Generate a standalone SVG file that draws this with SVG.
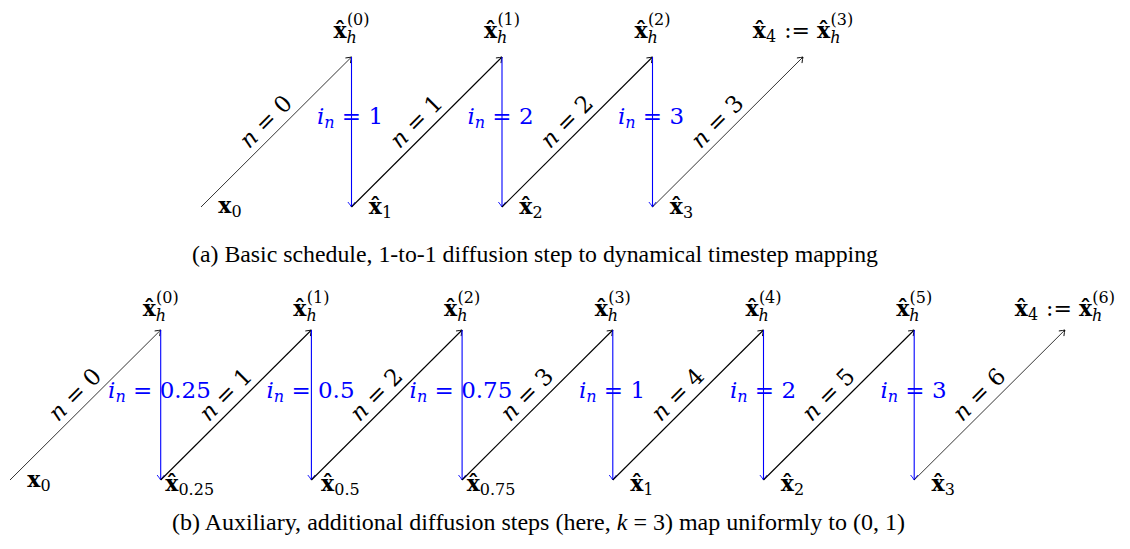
<svg xmlns="http://www.w3.org/2000/svg" width="1130" height="549" viewBox="0 0 1130 549">
<style>
.m{font-family:"DejaVu Serif",serif;font-size:22px;fill:#000}
.b{font-weight:bold}
.s{font-size:16px}
.i{font-style:italic}
.bl{fill:#0000ff;font-size:23px}
.el{font-size:23px}
.cap{font-family:"Liberation Serif",serif;font-size:23px;fill:#000}
.d{stroke:#000;stroke-width:1.1;fill:none;marker-end:url(#ab)}
.t{stroke-width:0.8}
.v{stroke:#0000ff;stroke-width:1.1;fill:none;marker-end:url(#au)}
</style>
<defs>
<marker id="ab" markerUnits="userSpaceOnUse" markerWidth="12" markerHeight="12" refX="0" refY="0" orient="auto" overflow="visible"><path d="M-5,-3.6 Q-1.6,-0.9 0,0 Q-1.6,0.9 -5,3.6" fill="none" stroke="#000" stroke-width="0.9"/></marker>
<marker id="au" markerUnits="userSpaceOnUse" markerWidth="12" markerHeight="12" refX="0" refY="0" orient="auto" overflow="visible"><path d="M-5,-3.6 Q-1.6,-0.9 0,0 Q-1.6,0.9 -5,3.6" fill="none" stroke="#0000ff" stroke-width="0.9"/></marker>
</defs>

<g id="connectors">
<!-- (a) -->
<line class="d t" x1="201" y1="207" x2="351.5" y2="57"/>
<line class="v" x1="351.5" y1="57" x2="351.5" y2="207"/>
<line class="d" x1="351.5" y1="207" x2="502" y2="57"/>
<line class="v" x1="502" y1="57" x2="502" y2="207"/>
<line class="d" x1="502" y1="207" x2="652.5" y2="57"/>
<line class="v" x1="652.5" y1="57" x2="652.5" y2="207"/>
<line class="d t" x1="652.5" y1="207" x2="803" y2="57"/>
<!-- (b) -->
<line class="d t" x1="10" y1="480" x2="160.7" y2="330"/>
<line class="v" x1="160.7" y1="330" x2="160.7" y2="480"/>
<line class="d" x1="160.7" y1="480" x2="311.4" y2="330"/>
<line class="v" x1="311.4" y1="330" x2="311.4" y2="480"/>
<line class="d" x1="311.4" y1="480" x2="462.1" y2="330"/>
<line class="v" x1="462.1" y1="330" x2="462.1" y2="480"/>
<line class="d" x1="462.1" y1="480" x2="612.8" y2="330"/>
<line class="v" x1="612.8" y1="330" x2="612.8" y2="480"/>
<line class="d" x1="612.8" y1="480" x2="763.5" y2="330"/>
<line class="v" x1="763.5" y1="330" x2="763.5" y2="480"/>
<line class="d" x1="763.5" y1="480" x2="914.2" y2="330"/>
<line class="v" x1="914.2" y1="330" x2="914.2" y2="480"/>
<line class="d t" x1="914.2" y1="480" x2="1064.9" y2="330"/>

<!-- edge labels (a) -->
<text class="m el" transform="translate(276.25,132) rotate(-45)" x="0" y="-7" text-anchor="middle"><tspan class="i">n</tspan> = 0</text>
<text class="m el" transform="translate(426.75,132) rotate(-45)" x="0" y="-7" text-anchor="middle"><tspan class="i">n</tspan> = 1</text>
<text class="m el" transform="translate(577.25,132) rotate(-45)" x="0" y="-7" text-anchor="middle"><tspan class="i">n</tspan> = 2</text>
<text class="m el" transform="translate(727.75,132) rotate(-45)" x="0" y="-7" text-anchor="middle"><tspan class="i">n</tspan> = 3</text>
<text class="m bl" x="350" y="124" text-anchor="middle"><tspan class="i">i</tspan><tspan class="i s" dy="4">n</tspan><tspan dy="-4"> = 1</tspan></text>
<text class="m bl" x="500.5" y="124" text-anchor="middle"><tspan class="i">i</tspan><tspan class="i s" dy="4">n</tspan><tspan dy="-4"> = 2</tspan></text>
<text class="m bl" x="651" y="124" text-anchor="middle"><tspan class="i">i</tspan><tspan class="i s" dy="4">n</tspan><tspan dy="-4"> = 3</tspan></text>
<!-- edge labels (b) -->
<text class="m el" transform="translate(85.35,405) rotate(-45)" x="0" y="-7" text-anchor="middle"><tspan class="i">n</tspan> = 0</text>
<text class="m el" transform="translate(236.05,405) rotate(-45)" x="0" y="-7" text-anchor="middle"><tspan class="i">n</tspan> = 1</text>
<text class="m el" transform="translate(386.75,405) rotate(-45)" x="0" y="-7" text-anchor="middle"><tspan class="i">n</tspan> = 2</text>
<text class="m el" transform="translate(537.45,405) rotate(-45)" x="0" y="-7" text-anchor="middle"><tspan class="i">n</tspan> = 3</text>
<text class="m el" transform="translate(688.15,405) rotate(-45)" x="0" y="-7" text-anchor="middle"><tspan class="i">n</tspan> = 4</text>
<text class="m el" transform="translate(838.85,405) rotate(-45)" x="0" y="-7" text-anchor="middle"><tspan class="i">n</tspan> = 5</text>
<text class="m el" transform="translate(989.55,405) rotate(-45)" x="0" y="-7" text-anchor="middle"><tspan class="i">n</tspan> = 6</text>
<text class="m bl" x="159.5" y="398" text-anchor="middle"><tspan class="i">i</tspan><tspan class="i s" dy="4">n</tspan><tspan dy="-4"> = 0.25</tspan></text>
<text class="m bl" x="310.5" y="398" text-anchor="middle"><tspan class="i">i</tspan><tspan class="i s" dy="4">n</tspan><tspan dy="-4"> = 0.5</tspan></text>
<text class="m bl" x="461" y="398" text-anchor="middle"><tspan class="i">i</tspan><tspan class="i s" dy="4">n</tspan><tspan dy="-4"> = 0.75</tspan></text>
<text class="m bl" x="612" y="398" text-anchor="middle"><tspan class="i">i</tspan><tspan class="i s" dy="4">n</tspan><tspan dy="-4"> = 1</tspan></text>
<text class="m bl" x="763" y="398" text-anchor="middle"><tspan class="i">i</tspan><tspan class="i s" dy="4">n</tspan><tspan dy="-4"> = 2</tspan></text>
<text class="m bl" x="913.5" y="398" text-anchor="middle"><tspan class="i">i</tspan><tspan class="i s" dy="4">n</tspan><tspan dy="-4"> = 3</tspan></text>
</g>

<!-- nodes (a) -->
<g id="a-x0"><text class="m" x="230" y="213" text-anchor="middle"><tspan class="b">x</tspan><tspan class="s" dy="4">0</tspan></text></g>
<g id="a-xh0"><text class="m" x="351.5" y="38" text-anchor="middle"><tspan class="b">x̂</tspan><tspan class="s i" dy="5">h</tspan><tspan class="s" dx="-10" dy="-18">(0)</tspan></text></g>
<g id="a-x1"><text class="m" x="380.5" y="214" text-anchor="middle"><tspan class="b">x̂</tspan><tspan class="s" dy="4">1</tspan></text></g>
<g id="a-xh1"><text class="m" x="502" y="38" text-anchor="middle"><tspan class="b">x̂</tspan><tspan class="s i" dy="5">h</tspan><tspan class="s" dx="-10" dy="-18">(1)</tspan></text></g>
<g id="a-x2"><text class="m" x="531" y="214" text-anchor="middle"><tspan class="b">x̂</tspan><tspan class="s" dy="4">2</tspan></text></g>
<g id="a-xh2"><text class="m" x="652.5" y="38" text-anchor="middle"><tspan class="b">x̂</tspan><tspan class="s i" dy="5">h</tspan><tspan class="s" dx="-10" dy="-18">(2)</tspan></text></g>
<g id="a-x3"><text class="m" x="681.5" y="214" text-anchor="middle"><tspan class="b">x̂</tspan><tspan class="s" dy="4">3</tspan></text></g>
<g id="a-x4"><text class="m" x="803" y="38" text-anchor="middle"><tspan class="b">x̂</tspan><tspan class="s" dy="4">4</tspan><tspan dy="-4" dx="8">:=</tspan><tspan class="b" dx="7">x̂</tspan><tspan class="s i" dy="5">h</tspan><tspan class="s" dx="-10" dy="-18">(3)</tspan></text></g>

<!-- nodes (b) -->
<g id="b-x0"><text class="m" x="39" y="487" text-anchor="middle"><tspan class="b">x</tspan><tspan class="s" dy="4">0</tspan></text></g>
<g id="b-xh0"><text class="m" x="160.7" y="316" text-anchor="middle"><tspan class="b">x̂</tspan><tspan class="s i" dy="5">h</tspan><tspan class="s" dx="-10" dy="-18">(0)</tspan></text></g>
<g id="b-x025"><text class="m" x="189.7" y="491" text-anchor="middle"><tspan class="b">x̂</tspan><tspan class="s" dy="4">0.25</tspan></text></g>
<g id="b-xh1"><text class="m" x="311.4" y="316" text-anchor="middle"><tspan class="b">x̂</tspan><tspan class="s i" dy="5">h</tspan><tspan class="s" dx="-10" dy="-18">(1)</tspan></text></g>
<g id="b-x05"><text class="m" x="340.4" y="491" text-anchor="middle"><tspan class="b">x̂</tspan><tspan class="s" dy="4">0.5</tspan></text></g>
<g id="b-xh2"><text class="m" x="462.1" y="316" text-anchor="middle"><tspan class="b">x̂</tspan><tspan class="s i" dy="5">h</tspan><tspan class="s" dx="-10" dy="-18">(2)</tspan></text></g>
<g id="b-x075"><text class="m" x="491.1" y="491" text-anchor="middle"><tspan class="b">x̂</tspan><tspan class="s" dy="4">0.75</tspan></text></g>
<g id="b-xh3"><text class="m" x="612.8" y="316" text-anchor="middle"><tspan class="b">x̂</tspan><tspan class="s i" dy="5">h</tspan><tspan class="s" dx="-10" dy="-18">(3)</tspan></text></g>
<g id="b-x1"><text class="m" x="641.8" y="491" text-anchor="middle"><tspan class="b">x̂</tspan><tspan class="s" dy="4">1</tspan></text></g>
<g id="b-xh4"><text class="m" x="763.5" y="316" text-anchor="middle"><tspan class="b">x̂</tspan><tspan class="s i" dy="5">h</tspan><tspan class="s" dx="-10" dy="-18">(4)</tspan></text></g>
<g id="b-x2"><text class="m" x="792.5" y="491" text-anchor="middle"><tspan class="b">x̂</tspan><tspan class="s" dy="4">2</tspan></text></g>
<g id="b-xh5"><text class="m" x="914.2" y="316" text-anchor="middle"><tspan class="b">x̂</tspan><tspan class="s i" dy="5">h</tspan><tspan class="s" dx="-10" dy="-18">(5)</tspan></text></g>
<g id="b-x3"><text class="m" x="943.2" y="491" text-anchor="middle"><tspan class="b">x̂</tspan><tspan class="s" dy="4">3</tspan></text></g>
<g id="b-x4"><text class="m" x="1064.9" y="316" text-anchor="middle"><tspan class="b">x̂</tspan><tspan class="s" dy="4">4</tspan><tspan dy="-4" dx="8">:=</tspan><tspan class="b" dx="7">x̂</tspan><tspan class="s i" dy="5">h</tspan><tspan class="s" dx="-10" dy="-18">(6)</tspan></text></g>

<!-- captions -->
<text class="cap" x="192" y="262" textLength="686" lengthAdjust="spacingAndGlyphs">(a) Basic schedule, 1-to-1 diffusion step to dynamical timestep mapping</text>
<text class="cap" x="172" y="530" textLength="733" lengthAdjust="spacingAndGlyphs">(b) Auxiliary, additional diffusion steps (here, <tspan class="i">k</tspan> = 3) map uniformly to (0, 1)</text>
</svg>
